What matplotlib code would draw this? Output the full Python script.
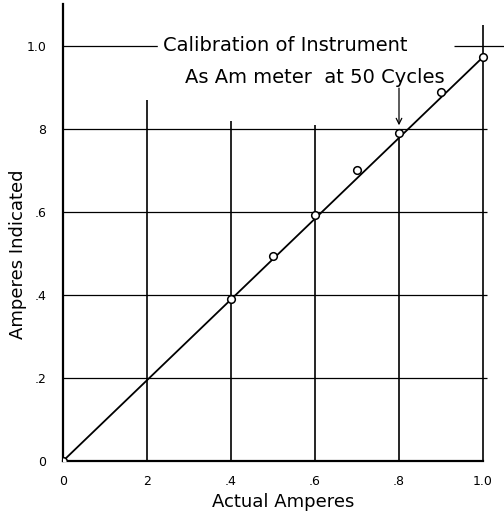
import matplotlib
matplotlib.use("Agg")
import matplotlib.pyplot as plt

# Data
actual = [0.0, 0.4, 0.5, 0.6, 0.7, 0.8, 0.9, 1.0]
indicated = [0.0, 0.39, 0.494, 0.593, 0.70, 0.79, 0.889, 0.973]
x_ticks = [0, 0.2, 0.4, 0.6, 0.8, 1.0]
x_tick_labels = ["0", "2", ".4", ".6", ".8", "1.0"]
y_ticks = [0, 0.2, 0.4, 0.6, 0.8, 1.0]
y_tick_labels = ["0", ".2", ".4", ".6", "8", "1.0"]

plt.rcParams['font.family'] = ['DejaVu Sans']
fig = plt.figure(figsize=(5.04, 5.12), dpi=100)
ax = fig.add_axes([0.125, 0.0996, 0.875, 0.900])
ax.set_xlim(0, 1.05)
ax.set_ylim(0, 1.11)

for s in ["top", "right"]:
    ax.spines[s].set_visible(False)
ax.spines["left"].set_bounds(0, 1.1)
ax.spines["bottom"].set_bounds(0, 1.0)
ax.spines["left"].set_linewidth(1.6)
ax.spines["bottom"].set_linewidth(1.6)

# grid lines (hand drawn, partial extents)
lw = 0.9
for y in [0.2, 0.4, 0.6, 0.8]:
    ax.hlines(y, 0, 1.01, color="black", lw=lw)
ax.hlines(1.0, 0, 0.29, color="black", lw=lw)
ax.hlines(1.0, 0.93, 1.05, color="black", lw=lw)
vtops = {0.2: 0.87, 0.4: 0.82, 0.6: 0.81, 0.8: 0.79, 1.0: 1.05}
for x, top in vtops.items():
    ax.vlines(x, 0, top, color="black", lw=1.2)

# arrow to 0.8 point
ax.annotate("", xy=(actual[5], indicated[5] + 0.012), xytext=(actual[5], 0.905),
            arrowprops=dict(arrowstyle="->", color="black", lw=0.9))

# calibration line and points
ax.plot([actual[0], actual[-1]], [indicated[0], indicated[-1]], color="black", lw=1.3, zorder=3)
ax.plot(actual, indicated, linestyle="none", marker="o", markersize=5.5,
        markerfacecolor="white", markeredgecolor="black", markeredgewidth=1.1, zorder=4)

ax.set_xticks(x_ticks)
ax.set_xticklabels(x_tick_labels, fontsize=9)
ax.set_yticks(y_ticks)
ax.set_yticklabels(y_tick_labels, fontsize=9)
ax.tick_params(length=0)
ax.tick_params(axis="y", pad=12)
ax.tick_params(axis="x", pad=10)

ax.set_xlabel("Actual Amperes", fontsize=13, labelpad=4)
fig.text(18 / 504, 0.504, "Amperes Indicated", fontsize=13, rotation=90,
         ha="center", va="center")

ax.text(0.53, 1.0, "Calibration of Instrument", fontsize=14, ha="center", va="center",
        backgroundcolor="white")
ax.text(0.60, 0.925, "As Am meter  at 50 Cycles", fontsize=14, ha="center", va="center")

fig.savefig("out.png", dpi=100)
